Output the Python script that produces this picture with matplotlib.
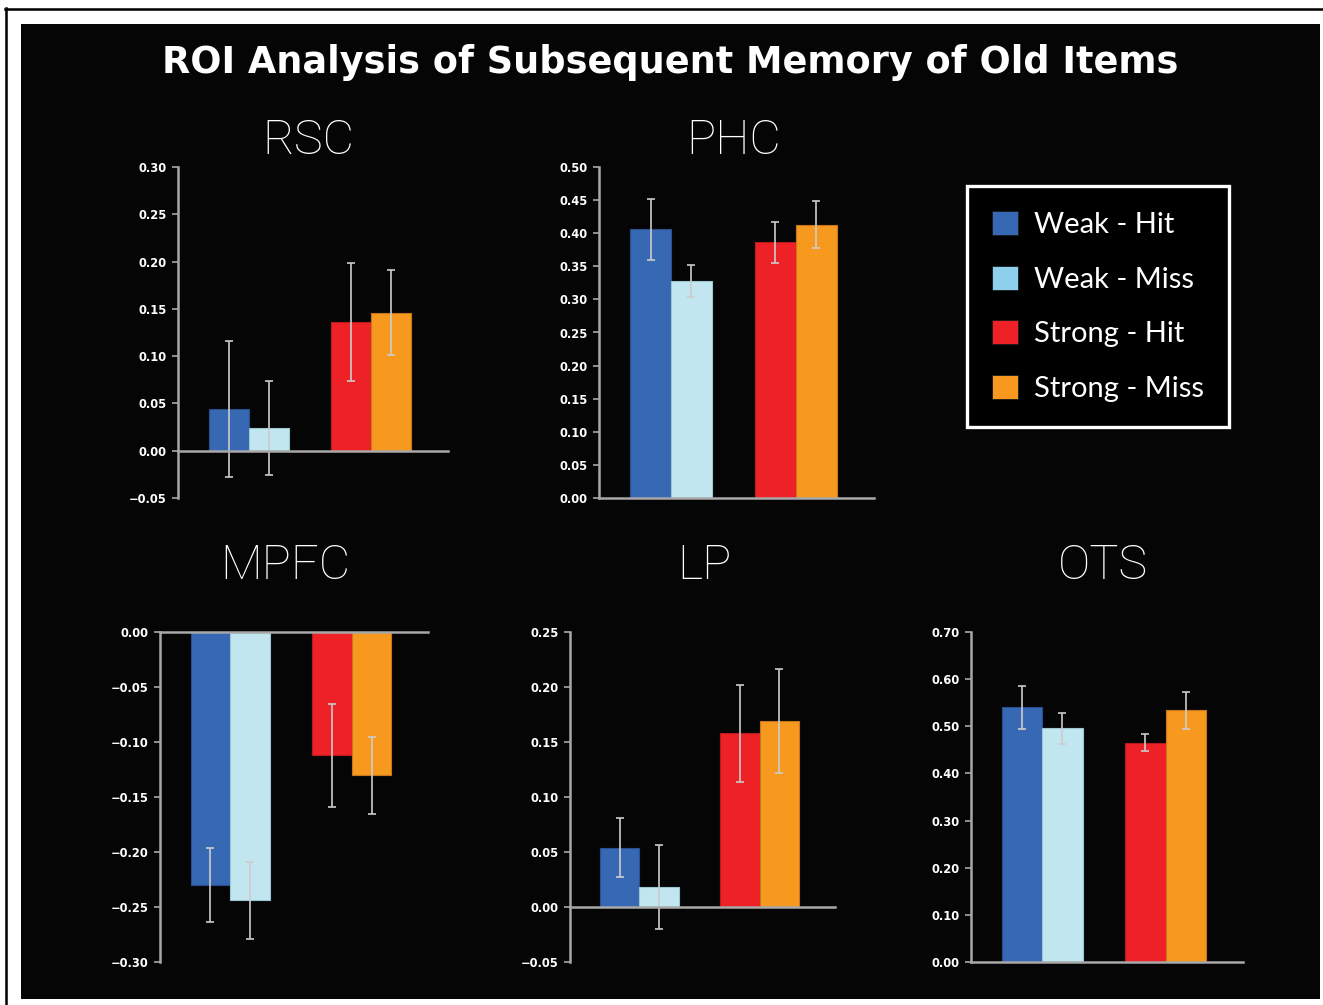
import matplotlib
matplotlib.use("Agg")
import matplotlib.pyplot as plt
from matplotlib.patches import Patch, Rectangle
from matplotlib.lines import Line2D

# Data
conditions = ["Weak - Hit", "Weak - Miss", "Strong - Hit", "Strong - Miss"]
regions = ["RSC", "PHC", "MPFC", "LP", "OTS"]

rsc_means = [0.044, 0.024, 0.136, 0.146]
rsc_errs = [0.072, 0.050, 0.062, 0.045]
phc_means = [0.406, 0.328, 0.386, 0.413]
phc_errs = [0.046, 0.024, 0.031, 0.035]
mpfc_means = [-0.230, -0.244, -0.112, -0.130]
mpfc_errs = [0.034, 0.035, 0.047, 0.035]
lp_means = [0.054, 0.018, 0.158, 0.169]
lp_errs = [0.027, 0.038, 0.044, 0.047]
ots_means = [0.540, 0.496, 0.465, 0.534]
ots_errs = [0.046, 0.033, 0.018, 0.039]

rsc_ticks = [-0.05, 0.00, 0.05, 0.10, 0.15, 0.20, 0.25, 0.30]
phc_ticks = [0.00, 0.05, 0.10, 0.15, 0.20, 0.25, 0.30, 0.35, 0.40, 0.45, 0.50]
mpfc_ticks = [-0.30, -0.25, -0.20, -0.15, -0.10, -0.05, 0.00]
lp_ticks = [-0.05, 0.00, 0.05, 0.10, 0.15, 0.20, 0.25]
ots_ticks = [0.00, 0.10, 0.20, 0.30, 0.40, 0.50, 0.60, 0.70]

bar_colors = ["#3768b4", "#c1e6ef", "#ee2226", "#f7981f"]
edge_colors = ["#2a4f8c", "#9cc6cf", "#b81a1c", "#c8781a"]
legend_colors = ["#3768b4", "#8ecfee", "#ee2226", "#f7981f"]

bar_x = [1.27, 2.27, 4.33, 5.33]

W, H = 1323, 1005
fig = plt.figure(figsize=(W / 100, H / 100), dpi=100, facecolor="white")

# black panel with the thin outer frame lines
fig.patches.append(Rectangle((21 / W, 1 - 999 / H), 1299 / W, 975 / H,
                             transform=fig.transFigure, facecolor="#050505",
                             edgecolor="none", zorder=-5))
fig.lines.append(Line2D([5 / W, 1322 / W], [1 - 9 / H, 1 - 9 / H],
                        transform=fig.transFigure, color="black", lw=1.8, zorder=-5))
fig.lines.append(Line2D([6 / W, 6 / W], [1 - 8 / H, 0],
                        transform=fig.transFigure, color="black", lw=1.8, zorder=-5))

# axes rectangles in pixels: left, top, right, bottom
boxes = {
    "RSC": (178, 167, 448, 498),
    "PHC": (599, 167, 874, 498),
    "MPFC": (160, 632, 428, 962),
    "LP": (570, 632, 835, 962),
    "OTS": (971, 632, 1243, 962),
}
title_x = {"RSC": 308, "PHC": 734, "MPFC": 285, "LP": 704, "OTS": 1103}
title_base = {"RSC": 154, "PHC": 154, "MPFC": 579, "LP": 579, "OTS": 579}

panels = {
    "RSC": (rsc_means, rsc_errs, rsc_ticks),
    "PHC": (phc_means, phc_errs, phc_ticks),
    "MPFC": (mpfc_means, mpfc_errs, mpfc_ticks),
    "LP": (lp_means, lp_errs, lp_ticks),
    "OTS": (ots_means, ots_errs, ots_ticks),
}

axis_grey = "#a8a8a8"

for name in regions:
    means, errs, ticks = panels[name]
    l, t, r, b = boxes[name]
    ax = fig.add_axes([l / W, 1 - b / H, (r - l) / W, (b - t) / H])
    ax.set_facecolor("none")
    ax.set_zorder(2)

    ax.bar(bar_x, means, width=1.0, color=bar_colors, edgecolor=edge_colors,
           linewidth=0.8, zorder=2)
    ax.errorbar(bar_x, means, yerr=errs, fmt="none", ecolor="#cccccc",
                elinewidth=1.2, capsize=3, capthick=1.2, zorder=3)

    ax.set_xlim(0, 6.75)
    ax.set_ylim(ticks[0], ticks[-1])
    ax.set_yticks(ticks)
    ax.set_yticklabels([f"{v:.2f}".replace("-", "\u2212") for v in ticks])
    ax.set_xticks([])

    for side in ["top", "right"]:
        ax.spines[side].set_visible(False)
    ax.spines["bottom"].set_position(("data", 0))
    ax.spines["bottom"].set_color(axis_grey)
    ax.spines["bottom"].set_linewidth(1.8)
    ax.spines["left"].set_color(axis_grey)
    ax.spines["left"].set_linewidth(1.8)
    ax.spines["bottom"].set_zorder(4)

    ax.tick_params(axis="y", direction="out", length=4, width=1.2,
                   color=axis_grey, labelcolor="white", labelsize=8.3, pad=4)
    for lab in ax.get_yticklabels():
        lab.set_fontweight("bold")
        lab.set_family("DejaVu Sans")

    fig.text(title_x[name] / W, 1 - title_base[name] / H, name,
             ha="center", va="baseline", color="white", fontsize=35,
             family=["Roboto", "Lato", "DejaVu Sans"], fontweight="light")

fig.text(670 / W, 1 - 73 / H, "ROI Analysis of Subsequent Memory of Old Items",
         ha="center", va="baseline", color="white", fontsize=26.4,
         family=["DejaVu Sans"], fontweight="bold")

handles = [Patch(facecolor=c, edgecolor="#1a1a1a", linewidth=0.6) for c in legend_colors]
leg = fig.legend(handles, conditions, loc="upper left",
                 bbox_to_anchor=(967 / W, 1 - 186 / H), borderaxespad=0,
                 frameon=True, fancybox=False,
                 facecolor="black", edgecolor="white", framealpha=1,
                 handlelength=0.89, handleheight=0.89, handletextpad=0.55,
                 labelspacing=0.95, borderpad=0.85,
                 prop={"family": ["Lato", "DejaVu Sans"], "size": 21})
leg.get_frame().set_linewidth(2.4)
for txt in leg.get_texts():
    txt.set_color("white")

fig.savefig("out.png", dpi=100, facecolor="white")
